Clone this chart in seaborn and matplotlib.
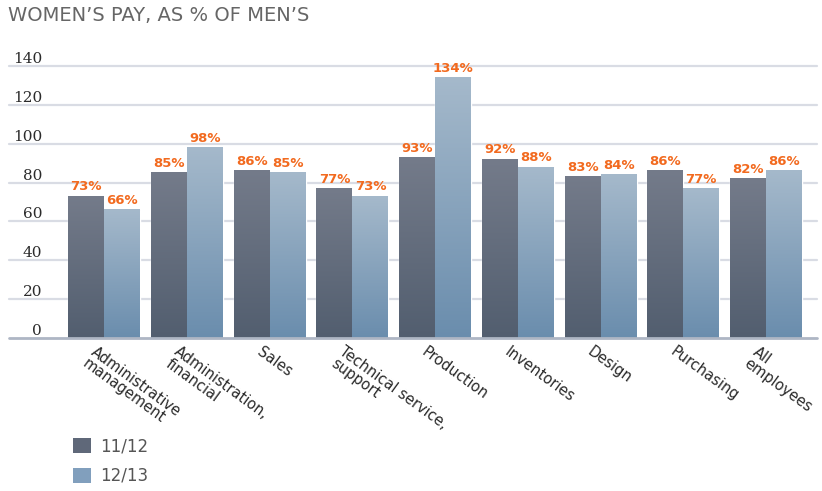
import numpy as np
import pandas as pd
import matplotlib
matplotlib.use("Agg")
import matplotlib.pyplot as plt
import matplotlib.transforms as mtransforms
from matplotlib.colors import LinearSegmentedColormap
from matplotlib.patches import Patch
import seaborn as sns

# ---- data -------------------------------------------------------------
categories = [
    "Administrative\nmanagement",
    "Administration,\nfinancial",
    "Sales",
    "Technical service,\nsupport",
    "Production",
    "Inventories",
    "Design",
    "Purchasing",
    "All\nemployees",
]
pay_1112 = [73, 85, 86, 77, 93, 92, 83, 86, 82]
pay_1213 = [66, 98, 85, 73, 134, 88, 84, 77, 86]
seasons = ["11/12", "12/13"]
y_ticks = [0, 20, 40, 60, 80, 100, 120, 140]

df = pd.DataFrame({
    "category": categories * 2,
    "season": [seasons[0]] * len(categories) + [seasons[1]] * len(categories),
    "pay": pay_1112 + pay_1213,
})

# ---- style ------------------------------------------------------------
sns.set_theme(style="white")
plt.rcParams["font.family"] = ["DejaVu Sans"]

dark_top, dark_bottom = "#747b8a", "#525e6f"
light_top, light_bottom = "#a5b9cb", "#6a8dad"
dark_mid, light_mid = "#5f6879", "#819fbd"
orange = "#f26a1f"
grid_color = "#d9dce4"
zero_color = "#aeb6c4"

W, H = 822, 491
fig = plt.figure(figsize=(W / 100, H / 100), dpi=100)
ax = fig.add_axes([9 / W, 1 - 338 / H, (817 - 9) / W, (338 - 66) / H])

sns.barplot(
    data=df, x="category", y="pay", hue="season",
    order=categories, hue_order=seasons,
    palette=[dark_mid, light_mid], saturation=1,
    width=0.87, gap=0, legend=False, ax=ax, zorder=3,
)

# vertical gradient fill for every bar
cmaps = [
    LinearSegmentedColormap.from_list("dark", [dark_bottom, dark_top]),
    LinearSegmentedColormap.from_list("light", [light_bottom, light_top]),
]
grad = np.linspace(0, 1, 256).reshape(-1, 1)
for cont, cmap in zip(ax.containers, cmaps):
    for bar in cont:
        x0, w, h = bar.get_x(), bar.get_width(), bar.get_height()
        ax.imshow(grad, extent=[x0, x0 + w, 0, h], origin="lower",
                  cmap=cmap, aspect="auto", zorder=4, interpolation="bilinear")
    # value labels in orange above each bar
    ax.bar_label(cont, labels=[f"{v:.0f}%" for v in cont.datavalues],
                 padding=2, color=orange, fontsize=9.5, fontweight="bold",
                 zorder=6)

xmin = -(104.3 - 9) / 82.7
xmax = 8 + (817 - 766) / 82.7
ax.set_xlim(xmin, xmax)
ax.set_ylim(0, 140)

# gridlines and y labels sitting just above them
for t in y_ticks:
    if t == 0:
        ax.axhline(t, color=zero_color, lw=2, zorder=5, clip_on=False)
    else:
        ax.axhline(t, color=grid_color, lw=1.6, zorder=1, clip_on=False)
    ax.text(33 / (817 - 9), t, str(t),
            transform=mtransforms.blended_transform_factory(ax.transAxes, ax.transData),
            ha="right", va="bottom", fontsize=11, family="DejaVu Serif",
            color="#2b2b2b")

ax.set_yticks([])
ax.set_xlabel("")
ax.set_ylabel("")
for s in ax.spines.values():
    s.set_visible(False)

# rotated category labels
ax.tick_params(axis="x", length=0, pad=0)
ax.set_xticks(range(len(categories)))
ax.set_xticklabels(categories, rotation=-36, ha="left", va="top",
                   rotation_mode="anchor", fontsize=10.5, color="#2a2a2a",
                   linespacing=1.0)
offset = mtransforms.ScaledTranslation(-7 / 100, -6 / 100, fig.dpi_scale_trans)
for lbl in ax.get_xticklabels():
    lbl.set_transform(lbl.get_transform() + offset)

# title
fig.text(8 / W, 1 - 21 / H, "WOMEN\u2019S PAY, AS % OF MEN\u2019S",
         ha="left", va="baseline", fontsize=14, color="#666666")

# legend
handles = [Patch(facecolor=dark_mid, edgecolor="none"),
           Patch(facecolor=light_mid, edgecolor="none")]
fig.legend(handles, seasons, loc="upper left",
           bbox_to_anchor=(60 / W, 1 - 424 / H), frameon=False,
           fontsize=12, labelcolor="#555555", handlelength=1.05,
           handleheight=1.05, handletextpad=0.55, labelspacing=0.7,
           borderpad=0.3)

fig.savefig("out.png", dpi=100)
